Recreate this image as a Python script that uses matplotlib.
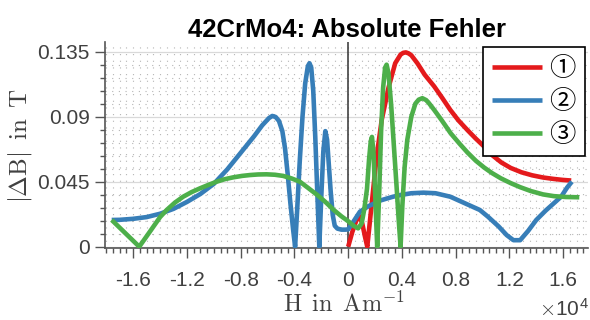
import matplotlib
matplotlib.use("Agg")
import matplotlib.pyplot as plt
from matplotlib.ticker import FixedLocator, MultipleLocator, FuncFormatter
from matplotlib.font_manager import FontProperties

plt.rcParams['mathtext.fontset'] = 'cm'
plt.rcParams['axes.unicode_minus'] = False
plt.rcParams['font.family'] = ['Liberation Sans', 'DejaVu Sans']

# ---------------- data (H in units of 1e4 A/m, |dB| in T) ----------------
h_blue = [-1.76, -1.70, -1.60, -1.50, -1.40, -1.30, -1.20, -1.10, -1.00, -0.90,
          -0.80, -0.70, -0.64, -0.59, -0.565, -0.54, -0.515, -0.49, -0.47, -0.45,
          -0.43, -0.41, -0.395, -0.38, -0.36, -0.34, -0.32, -0.30, -0.288, -0.275,
          -0.26, -0.245, -0.23, -0.215, -0.20, -0.185, -0.17, -0.157, -0.145, -0.13,
          -0.115, -0.10, -0.08, -0.05, -0.02, 0.0, 0.04, 0.087, 0.15, 0.24,
          0.33, 0.39, 0.47, 0.56, 0.65, 0.76, 0.87, 0.98, 1.04, 1.12,
          1.18, 1.23, 1.28, 1.34, 1.40, 1.47, 1.53, 1.585, 1.63, 1.665]
b_blue = [0.0185, 0.0186, 0.0193, 0.0205, 0.0228, 0.0262, 0.0310, 0.0365, 0.0435, 0.0535,
          0.065, 0.0765, 0.084, 0.089, 0.0905, 0.0898, 0.087, 0.080, 0.068, 0.050,
          0.030, 0.012, 0.0, 0.025, 0.060, 0.090, 0.113, 0.125, 0.127, 0.124,
          0.108, 0.076, 0.038, 0.0, 0.035, 0.066, 0.080, 0.074, 0.058, 0.038,
          0.022, 0.0145, 0.0125, 0.0118, 0.0118, 0.012, 0.0175, 0.0242, 0.028, 0.032,
          0.0345, 0.0358, 0.037, 0.0374, 0.037, 0.0346, 0.030, 0.0254, 0.0208, 0.014,
          0.008, 0.0045, 0.0045, 0.011, 0.0185, 0.025, 0.030, 0.0346, 0.041, 0.045]

h_red = [0.0, 0.03, 0.06, 0.085, 0.105, 0.125, 0.142, 0.16, 0.18, 0.20,
         0.22, 0.25, 0.28, 0.30, 0.35, 0.39, 0.41, 0.43, 0.45, 0.47, 0.515, 0.57,
         0.64, 0.70, 0.76, 0.82, 0.89, 0.95, 1.01, 1.07, 1.14, 1.21,
         1.29, 1.37, 1.45, 1.53, 1.60, 1.66]
b_red = [0.0, 0.010, 0.018, 0.021, 0.016, 0.007, 0.0, 0.016, 0.034, 0.052,
         0.068, 0.088, 0.101, 0.110, 0.127, 0.133, 0.1342, 0.1345, 0.1338, 0.1325, 0.127, 0.119,
         0.111, 0.103, 0.0947, 0.0875, 0.0805, 0.0748, 0.0695, 0.0635, 0.0583, 0.0545,
         0.0515, 0.0494, 0.0479, 0.0469, 0.0462, 0.0458]

h_green = [-1.76, -1.555, -1.476, -1.40, -1.351, -1.29, -1.228, -1.165, -1.103, -1.04,
           -0.979, -0.92, -0.856, -0.79, -0.731, -0.67, -0.607, -0.545, -0.484, -0.42,
           -0.36, -0.30, -0.23, -0.17, -0.107, -0.05,
           0.005, 0.04, 0.074, 0.10, 0.12, 0.14, 0.155, 0.168, 0.177, 0.188,
           0.20, 0.216, 0.23, 0.245, 0.26, 0.275, 0.286, 0.30, 0.32, 0.34,
           0.36, 0.375, 0.39, 0.403, 0.42, 0.44, 0.47, 0.50, 0.525, 0.552, 0.58, 0.60,
           0.64, 0.70, 0.763, 0.83, 0.888, 0.95, 1.012, 1.07, 1.137, 1.21,
           1.28, 1.36, 1.45, 1.53, 1.62, 1.72]
b_green = [0.0185, 0.0, 0.0104, 0.0205, 0.0254, 0.0305, 0.0346, 0.0378, 0.0404, 0.0428,
           0.045, 0.0467, 0.048, 0.0490, 0.0496, 0.0500, 0.0501, 0.0498, 0.049, 0.0472,
           0.045, 0.0408, 0.0358, 0.031, 0.0254, 0.021,
           0.0173, 0.0145, 0.0127, 0.016, 0.026, 0.040, 0.060, 0.073, 0.076, 0.066,
           0.038, 0.0, 0.035, 0.080, 0.110, 0.124, 0.126, 0.120, 0.098, 0.070,
           0.042, 0.020, 0.0, 0.028, 0.055, 0.074, 0.090, 0.099, 0.1018, 0.1028, 0.1015, 0.0995,
           0.0947, 0.087, 0.0785, 0.0712, 0.0652, 0.0595, 0.0548, 0.0510, 0.0473, 0.0440,
           0.0412, 0.0385, 0.0362, 0.0350, 0.0344, 0.0342]

series_labels = ['①', '②', '③']
series_colors = ['#e41a1c', '#377eb8', '#4daf4a']
x_ticks = [-1.6, -1.2, -0.8, -0.4, 0.0, 0.4, 0.8, 1.2, 1.6]
y_ticks = [0.0, 0.045, 0.09, 0.135]
scale = 1e4

# ---------------- figure ----------------
W, H = 590, 320
fig = plt.figure(figsize=(W/100, H/100), dpi=100)
ax = fig.add_axes([105/W, 1-247.7/H, (588-105)/W, (247.7-42)/H])

tick_col = '#404040'
ax.set_xlim(-18100, 17850)
ax.set_ylim(-0.0007, 0.1417)

ax.xaxis.set_major_locator(FixedLocator([v*scale for v in x_ticks]))
ax.xaxis.set_minor_locator(MultipleLocator(500))
ax.yaxis.set_major_locator(FixedLocator(y_ticks))
ax.yaxis.set_minor_locator(MultipleLocator(0.009))
ax.xaxis.set_major_formatter(FuncFormatter(lambda v, p: f"{v/scale:g}"))
ax.yaxis.set_major_formatter(FuncFormatter(lambda v, p: f"{v:g}"))

ax.grid(which='minor', axis='both', color='#b5b5b5', lw=0.8, ls=(0, (1, 5)))
ax.grid(which='major', axis='x', color='#b5b5b5', lw=0.8, ls=(0, (1, 5)))
ax.grid(which='major', axis='y', color='#d9d9d9', lw=0.9, ls='-')
ax.set_axisbelow(True)

ax.axvline(0, color='#333333', lw=1.1, zorder=1.5)

lines = []
for (hx, by), c in zip([(h_red, b_red), (h_blue, b_blue), (h_green, b_green)], series_colors):
    l, = ax.plot([v*scale for v in hx], by, color=c, lw=3.3,
                 solid_joinstyle='round', solid_capstyle='butt', zorder=3)
    lines.append(l)

for s in ['top', 'right']:
    ax.spines[s].set_visible(False)
for s in ['left', 'bottom']:
    ax.spines[s].set_color('#555555')
    ax.spines[s].set_linewidth(1.2)

ax.tick_params(which='major', direction='out', length=7, width=1.0, color='#555555',
               labelsize=15, labelcolor=tick_col)
ax.tick_params(which='minor', direction='out', length=3.6, width=1.0, color='#555555')
ax.tick_params(axis='x', which='major', pad=10)
ax.tick_params(axis='y', which='major', pad=4)

ax.set_title('42CrMo4: Absolute Fehler', fontsize=18.5, fontweight='bold', pad=3.5)

fig.text(344/W, 1-304/H, r'$\mathrm{H\ \,in\ \,Am^{-1}}$', fontsize=17.5,
         color=tick_col, ha='center', va='center')
fig.text(20/W, 1-145.5/H, r'$|\Delta\mathrm{B}|\ \,\mathrm{in}\ \,\mathrm{T}$', fontsize=18,
         color=tick_col, ha='center', va='center', rotation=90)

fig.text(589/W, 1-317/H, r'$\times\mathdefault{10}^{\mathdefault{4}}$',
         ha='right', va='baseline', fontsize=15, color=tick_col)

leg = ax.legend(lines, series_labels, loc='upper right',
                bbox_to_anchor=(585/W, 1-46.7/H), bbox_transform=fig.transFigure,
                frameon=True, fancybox=False, edgecolor='black', framealpha=1,
                borderaxespad=0, prop=FontProperties(family=['DejaVu Serif', 'Noto Sans CJK JP'], size=19),
                handlelength=1.9, handletextpad=0.27, labelspacing=0.3, borderpad=0.35)
leg.get_frame().set_linewidth(1.2)

fig.savefig('out.png', dpi=100)
